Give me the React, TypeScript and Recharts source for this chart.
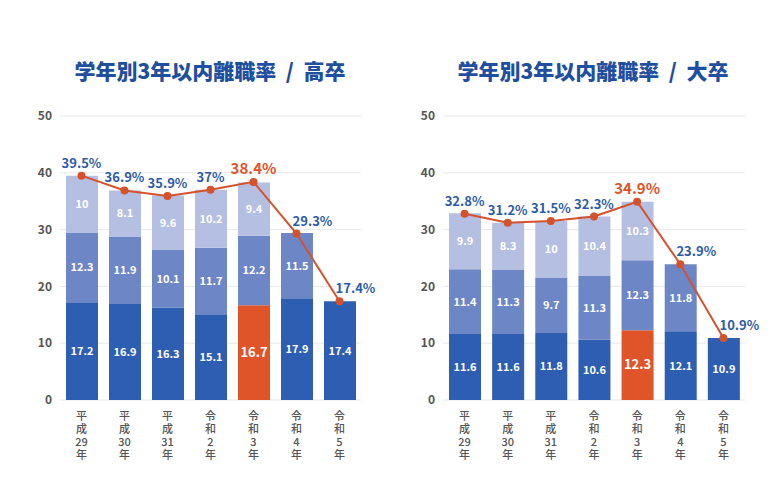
import { ComposedChart, Bar, Line, XAxis, YAxis, CartesianGrid, Cell, LabelList } from 'recharts'

// 年度（縦書きラベル用に行ごとに分割）
const years = [
  ['平', '成', '29', '年'],
  ['平', '成', '30', '年'],
  ['平', '成', '31', '年'],
  ['令', '和', '2', '年'],
  ['令', '和', '3', '年'],
  ['令', '和', '4', '年'],
  ['令', '和', '5', '年'],
]

// 高卒: 1年目 / 2年目 / 3年目 / 合計
const hsYear1 = [17.2, 16.9, 16.3, 15.1, 16.7, 17.9, 17.4]
const hsYear2 = [12.3, 11.9, 10.1, 11.7, 12.2, 11.5, null]
const hsYear3 = [10, 8.1, 9.6, 10.2, 9.4, null, null]
const hsTotal = [39.5, 36.9, 35.9, 37, 38.4, 29.3, 17.4]

// 大卒
const univYear1 = [11.6, 11.6, 11.8, 10.6, 12.3, 12.1, 10.9]
const univYear2 = [11.4, 11.3, 9.7, 11.3, 12.3, 11.8, null]
const univYear3 = [9.9, 8.3, 10, 10.4, 10.3, null, null]
const univTotal = [32.8, 31.2, 31.5, 32.3, 34.9, 23.9, 10.9]

const yTicks = [0, 10, 20, 30, 40, 50]
const HIGHLIGHT = 4

const DARK = '#2e5eb1'
const MID = '#6d86c5'
const LIGHT = '#b5bfe1'
const ORANGE = '#df5429'
const LINE = '#d4522d'
const TEXT_BLUE = '#2d5ba6'
const FONT = '"Noto Sans CJK JP", "Noto Sans", sans-serif'

type Row = { idx: number; y1: number; y2: number | null; y3: number | null; total: number }

function buildRows(a: number[], b: (number | null)[], c: (number | null)[], t: number[]): Row[] {
  return a.map((v, i) => ({ idx: i, y1: v, y2: b[i], y3: c[i], total: t[i] }))
}

// 縦書きの年度ラベル
function YearTick(props: any) {
  const { x, y, payload } = props
  const lines = years[payload.value] ?? []
  return (
    <g>
      {lines.map((s, i) => (
        <text
          key={i} x={x} y={y + 12 + i * 13} textAnchor="middle"
          fill="#555" fontSize={11} fontFamily={FONT} fontWeight={500}
        >
          {s}
        </text>
      ))}
    </g>
  )
}

function SegmentLabel(props: any) {
  const { x, y, width, height, value, index, big } = props
  if (value == null) return null
  const hl = big && index === HIGHLIGHT
  return (
    <text
      x={x + width / 2} y={y + height / 2} dy={4}
      textAnchor="middle" fill="#fff"
      fontSize={hl ? 13 : 11} fontWeight={700} fontFamily={FONT}
    >
      {value}
    </text>
  )
}

function TotalLabel(props: any) {
  const { x, y, value, index } = props
  const hl = index === HIGHLIGHT
  const dx = index >= 5 ? 16 : 0
  return (
    <text
      x={x + dx} y={y - 8}
      textAnchor="middle" fill={hl ? ORANGE : TEXT_BLUE}
      fontSize={hl ? 15 : 13} fontWeight={700} fontFamily={FONT}
    >
      {`${value}%`}
    </text>
  )
}

function RateChart({ title, rows, left, marginLeft, marginRight, titleX }: {
  title: string; rows: Row[]; left: number; marginLeft: number; marginRight: number; titleX: number
}) {
  return (
    <div style={{ position: 'absolute', left, top: 0, width: 391, height: 495 }}>
      <div style={{
        position: 'absolute', top: 56, left: titleX, width: 300, textAlign: 'center', whiteSpace: 'pre',
        fontFamily: FONT, fontWeight: 900, fontSize: 21, lineHeight: '28px', color: '#1f4f9e',
      }}>
        {title}
      </div>
      <ComposedChart
        width={391} height={495} data={rows}
        margin={{ top: 116, right: marginRight, bottom: 25, left: marginLeft }}
        barSize={32}
      >
        <CartesianGrid vertical={false} stroke="#e8e8ec" />
        <XAxis
          dataKey="idx" tick={<YearTick />} tickLine={false} axisLine={false}
          height={70} interval={0}
        />
        <YAxis
          domain={[0, 50]} ticks={yTicks} width={30} tickLine={false} axisLine={false}
          tick={{ fill: '#555', fontSize: 12, fontWeight: 600, fontFamily: FONT }}
        />
        <Bar dataKey="y1" stackId="s" fill={DARK} isAnimationActive={false}>
          {rows.map((r) => (
            <Cell key={r.idx} fill={r.idx === HIGHLIGHT ? ORANGE : DARK} />
          ))}
          <LabelList dataKey="y1" content={<SegmentLabel big />} />
        </Bar>
        <Bar dataKey="y2" stackId="s" fill={MID} isAnimationActive={false}>
          <LabelList dataKey="y2" content={<SegmentLabel />} />
        </Bar>
        <Bar dataKey="y3" stackId="s" fill={LIGHT} isAnimationActive={false}>
          <LabelList dataKey="y3" content={<SegmentLabel />} />
        </Bar>
        <Line
          dataKey="total" type="linear" stroke={LINE} strokeWidth={2}
          dot={{ r: 3, fill: LINE, stroke: LINE }} isAnimationActive={false}
        >
          <LabelList dataKey="total" content={<TotalLabel />} />
        </Line>
      </ComposedChart>
    </div>
  )
}

export default function App() {
  return (
    <div style={{ position: 'absolute', left: 0, top: 0, width: 782, height: 495, background: '#fff', overflow: 'hidden' }}>
      <RateChart
        title={'学年別3年以内離職率  /  高卒'}
        rows={buildRows(hsYear1, hsYear2, hsYear3, hsTotal)}
        left={0} marginLeft={30} marginRight={30} titleX={60}
      />
      <RateChart
        title={'学年別3年以内離職率  /  大卒'}
        rows={buildRows(univYear1, univYear2, univYear3, univTotal)}
        left={391} marginLeft={22} marginRight={37} titleX={52}
      />
    </div>
  )
}
